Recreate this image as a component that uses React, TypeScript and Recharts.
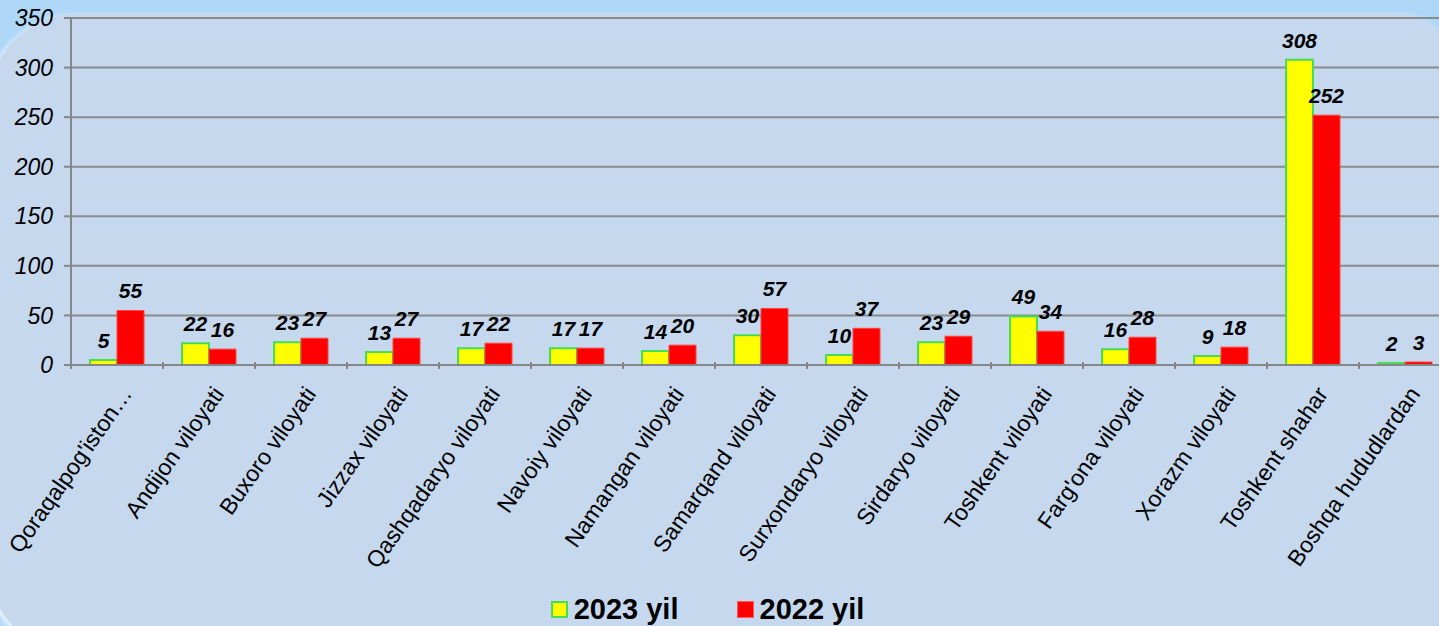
import React from 'react';
import { BarChart, Bar, XAxis, YAxis, CartesianGrid, Legend, LabelList } from 'recharts';

const regions = [
  "Qoraqalpog'iston…",
  'Andijon viloyati',
  'Buxoro viloyati',
  'Jizzax viloyati',
  'Qashqadaryo viloyati',
  'Navoiy viloyati',
  'Namangan viloyati',
  'Samarqand viloyati',
  'Surxondaryo viloyati',
  'Sirdaryo viloyati',
  'Toshkent viloyati',
  "Farg'ona viloyati",
  'Xorazm viloyati',
  'Toshkent shahar',
  'Boshqa hududlardan',
];
const y2023 = [5, 22, 23, 13, 17, 17, 14, 30, 10, 23, 49, 16, 9, 308, 2];
const y2022 = [55, 16, 27, 27, 22, 17, 20, 57, 37, 29, 34, 28, 18, 252, 3];
const yTicks = [0, 50, 100, 150, 200, 250, 300, 350];

const data = regions.map((name, i) => ({ name, y2023: y2023[i], y2022: y2022[i] }));

const FONT = '"Liberation Sans", Arial, sans-serif';

const CategoryTick = (props: any) => {
  const { x, y, payload } = props;
  return (
    <g>
      <line x1={x - 46} y1={y - 11} x2={x - 46} y2={y - 4} stroke="#868686" strokeWidth={2} />
      <text
        x={x + 16}
        y={y + 21}
        textAnchor="end"
        transform={`rotate(-55, ${x + 16}, ${y + 21})`}
        fontSize={23}
        fontFamily={FONT}
        fill="#000"
      >
        {payload.value}
      </text>
    </g>
  );
};

const LegendBox = () => (
  <div style={{ display: 'flex', justifyContent: 'center', fontFamily: FONT, fontWeight: 'bold', fontSize: 29, color: '#000', marginLeft: -36 }}>
    <div style={{ display: 'flex', alignItems: 'center', marginRight: 58 }}>
      <span style={{ width: 13, height: 13, background: '#ffff00', border: '2px solid #44dd55', marginRight: 6 }} />
      2023 yil
    </div>
    <div style={{ display: 'flex', alignItems: 'center' }}>
      <span style={{ width: 15, height: 15, background: '#ff0000', border: '1px solid #ff5555', marginRight: 6 }} />
      2022 yil
    </div>
  </div>
);

const valueLabelStyle = { fill: '#000', fontSize: 21, fontWeight: 'bold', fontStyle: 'italic', fontFamily: FONT };

export default function App() {
  return (
    <div style={{ position: 'absolute', left: 0, top: 0, width: 1439, height: 626, overflow: 'hidden', background: '#aed7f7' }}>
      <div
        style={{
          position: 'absolute',
          left: -12,
          top: 14,
          width: 1470,
          height: 640,
          borderRadius: '90px 60px 0 90px',
          background: '#c5d8ee',
          boxShadow: '-2px 2px 6px rgba(255,255,255,0.9)',
        }}
      />
      <div style={{ position: 'absolute', left: 0, top: 0 }}>
        <BarChart
          width={1451}
          height={626}
          data={data}
          margin={{ top: 18, right: 0, bottom: 0, left: 0 }}
          barSize={27}
          barGap={0}
        >
          <CartesianGrid horizontal vertical={false} stroke="#8a8a8a" strokeWidth={2} />
          <XAxis
            dataKey="name"
            interval={0}
            height={228}
            tick={<CategoryTick />}
            tickLine={false}
            axisLine={{ stroke: '#868686', strokeWidth: 2 }}
          />
          <YAxis
            domain={[0, 350]}
            ticks={yTicks}
            width={71}
            tickSize={7}
            tickLine={{ stroke: '#868686', strokeWidth: 2 }}
            axisLine={{ stroke: '#868686', strokeWidth: 2 }}
            tick={{ fill: '#000', fontSize: 23, fontStyle: 'italic', fontFamily: FONT }}
            tickMargin={11}
          />
          <Legend verticalAlign="bottom" content={<LegendBox />} wrapperStyle={{ bottom: 0 }} />
          <Bar dataKey="y2023" name="2023 yil" fill="#ffff00" stroke="#44dd55" strokeWidth={2} isAnimationActive={false}>
            <LabelList dataKey="y2023" position="top" offset={12} style={valueLabelStyle} />
          </Bar>
          <Bar dataKey="y2022" name="2022 yil" fill="#ff0000" stroke="#ff4444" strokeWidth={1} isAnimationActive={false}>
            <LabelList dataKey="y2022" position="top" offset={12} style={valueLabelStyle} />
          </Bar>
        </BarChart>
      </div>
    </div>
  );
}
